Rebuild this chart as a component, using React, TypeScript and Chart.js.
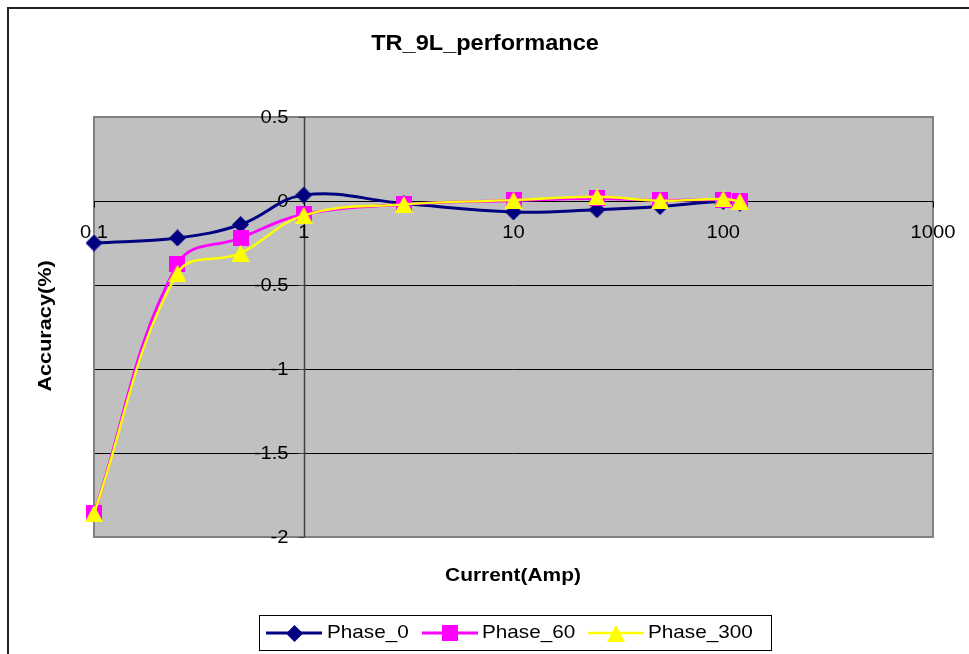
import React, { useEffect, useRef } from "react";
import { Chart, registerables } from "chart.js";

Chart.register(...registerables);

const chartTitle = "TR_9L_performance";
const xAxisTitle = "Current(Amp)";
const yAxisTitle = "Accuracy(%)";
const currents = [0.1, 0.25, 0.5, 1, 3, 10, 25, 50, 100, 120];
const phase0 = [-0.25, -0.22, -0.14, 0.035, -0.015, -0.065, -0.052, -0.033, -0.002, -0.012];
const phase60 = [-1.86, -0.375, -0.22, -0.08, -0.02, 0.003, 0.015, 0.004, 0.008, -0.002];
const phase300 = [-1.86, -0.43, -0.31, -0.085, -0.02, 0.005, 0.025, 0.002, 0.012, -0.002];
const xTicks = [0.1, 1, 10, 100, 1000];
const xTickLabels = ["0.1", "1", "10", "100", "1000"];
const yTicks = [0.5, 0, -0.5, -1, -1.5, -2];
const yTickLabels = ["0.5", "0", "-0.5", "-1", "-1.5", "-2"];
const seriesNames = ["Phase_0", "Phase_60", "Phase_300"];
const seriesValues = [phase0, phase60, phase300];
const seriesColors = ["#000080", "#FF00FF", "#FFFF00"];
const seriesMarkers = ["diamond", "square", "triangle"];
const seriesWidths = [3, 2.8, 2.4];

const FONT = '"Liberation Sans", Arial, sans-serif';

function makeMarker(kind: string, color: string): HTMLCanvasElement {
  const c = document.createElement("canvas");
  let w = 17, h = 17;
  if (kind === "square") { w = 16; h = 16; }
  if (kind === "triangle") { w = 18; h = 17; }
  c.width = w;
  c.height = h;
  const ctx = c.getContext("2d")!;
  ctx.fillStyle = color;
  ctx.beginPath();
  if (kind === "diamond") {
    ctx.moveTo(w / 2, 0);
    ctx.lineTo(w, h / 2);
    ctx.lineTo(w / 2, h);
    ctx.lineTo(0, h / 2);
    ctx.closePath();
  } else if (kind === "square") {
    ctx.rect(0, 0, w, h);
  } else {
    ctx.moveTo(w / 2, 0);
    ctx.lineTo(w, h);
    ctx.lineTo(0, h);
    ctx.closePath();
  }
  ctx.fill();
  return c;
}

function drawText(ctx: CanvasRenderingContext2D, s: string, x: number, y: number, font: string, align: CanvasTextAlign, sx: number, rot = 0) {
  ctx.save();
  ctx.translate(x, y);
  if (rot) ctx.rotate(rot);
  ctx.scale(sx, 1);
  ctx.font = font;
  ctx.fillStyle = "#000";
  ctx.textAlign = align;
  ctx.textBaseline = "middle";
  ctx.fillText(s, 0, 0);
  ctx.restore();
}

function makePlugin(markers: HTMLCanvasElement[]) {
  return {
    id: "excelLook",
    beforeDraw(chart: any) {
      const ctx: CanvasRenderingContext2D = chart.ctx;
      const { left, right, top, bottom } = chart.chartArea;
      const xs = chart.scales.x;
      const ys = chart.scales.y;
      ctx.save();
      ctx.fillStyle = "#ffffff";
      ctx.fillRect(0, 0, chart.width, chart.height);
      // outer frame
      ctx.strokeStyle = "#222";
      ctx.lineWidth = 2;
      ctx.strokeRect(8, 8, 1200, 1200);
      // plot area
      ctx.fillStyle = "#C0C0C0";
      ctx.fillRect(left, top, right - left, bottom - top);
      // gridlines
      ctx.strokeStyle = "#000";
      ctx.lineWidth = 1;
      yTicks.forEach((v) => {
        const py = Math.round(ys.getPixelForValue(v)) + 0.5;
        ctx.beginPath();
        ctx.moveTo(left, py);
        ctx.lineTo(right, py);
        ctx.stroke();
      });
      // plot border
      ctx.strokeStyle = "#808080";
      ctx.lineWidth = 2;
      ctx.strokeRect(left, top, right - left, bottom - top);
      // y axis at x = 1
      const ax = Math.round(xs.getPixelForValue(1)) + 0.5;
      ctx.strokeStyle = "#404040";
      ctx.lineWidth = 1.5;
      ctx.beginPath();
      ctx.moveTo(ax, top);
      ctx.lineTo(ax, bottom);
      ctx.stroke();
      ctx.lineWidth = 1;
      yTicks.forEach((v) => {
        const py = Math.round(ys.getPixelForValue(v)) + 0.5;
        ctx.beginPath();
        ctx.moveTo(ax - 6, py);
        ctx.lineTo(ax, py);
        ctx.stroke();
      });
      // x axis at y = 0
      const ay = Math.round(ys.getPixelForValue(0)) + 0.5;
      ctx.strokeStyle = "#000";
      ctx.lineWidth = 1;
      ctx.beginPath();
      ctx.moveTo(left, ay);
      ctx.lineTo(right, ay);
      ctx.stroke();
      xTicks.forEach((v) => {
        const px = Math.round(xs.getPixelForValue(v)) + 0.5;
        ctx.beginPath();
        ctx.moveTo(px, ay);
        ctx.lineTo(px, ay + 6);
        ctx.stroke();
      });
      // tick labels
      const tf = `19px ${FONT}`;
      yTicks.forEach((v, i) => {
        drawText(ctx, yTickLabels[i], ax - 16, ys.getPixelForValue(v) + 1, tf, "right", 1.06);
      });
      xTicks.forEach((v, i) => {
        drawText(ctx, xTickLabels[i], xs.getPixelForValue(v), ay + 31, tf, "center", 1.06);
      });
      // titles
      drawText(ctx, chartTitle, 485, 44, `bold 22px ${FONT}`, "center", 1.07);
      drawText(ctx, xAxisTitle, 513, 576, `bold 19px ${FONT}`, "center", 1.1);
      drawText(ctx, yAxisTitle, 46, 326, `bold 19px ${FONT}`, "center", 1.14, -Math.PI / 2);
      // legend
      ctx.strokeStyle = "#000";
      ctx.lineWidth = 1;
      ctx.strokeRect(259.5, 615.5, 512, 35);
      const legendLineStart = [266, 422, 588];
      const legendTextStart = [327, 482, 648];
      const ly = 633;
      seriesNames.forEach((name, i) => {
        ctx.strokeStyle = seriesColors[i];
        ctx.lineWidth = seriesWidths[i];
        ctx.beginPath();
        ctx.moveTo(legendLineStart[i], ly);
        ctx.lineTo(legendLineStart[i] + 56, ly);
        ctx.stroke();
        const m = markers[i];
        ctx.drawImage(m, Math.round(legendLineStart[i] + 28 - m.width / 2), Math.round(ly - m.height / 2));
        drawText(ctx, name, legendTextStart[i], ly, `19px ${FONT}`, "left", 1.09);
      });
      ctx.restore();
    },
  };
}

export default function App() {
  const ref = useRef<HTMLCanvasElement | null>(null);
  useEffect(() => {
    if (!ref.current) return;
    const markers = seriesMarkers.map((k, i) => makeMarker(k, seriesColors[i]));
    const datasets = seriesNames.map((name, i) => ({
      label: name,
      data: currents.map((c, j) => ({ x: c, y: seriesValues[i][j] })),
      borderColor: seriesColors[i],
      backgroundColor: seriesColors[i],
      borderWidth: seriesWidths[i],
      pointStyle: markers[i] as any,
      pointRadius: 9,
      tension: 0.4,
      clip: false as any,
      order: 2 - i,
    }));
    const chart = new Chart(ref.current, {
      type: "line",
      data: { datasets },
      options: {
        animation: false,
        responsive: false,
        devicePixelRatio: 1,
        layout: { padding: { left: 94, top: 117, right: 36, bottom: 117 } },
        plugins: { legend: { display: false }, title: { display: false }, tooltip: { enabled: false } },
        scales: {
          x: { type: "logarithmic", min: 0.1, max: 1000, display: false },
          y: { type: "linear", min: -2, max: 0.5, display: false },
        },
      },
      plugins: [makePlugin(markers)],
    });
    return () => chart.destroy();
  }, []);
  return (
    <div style={{ position: "absolute", left: 0, top: 0, width: 969, height: 654 }}>
      <canvas ref={ref} width={969} height={654} style={{ width: 969, height: 654, display: "block" }} />
    </div>
  );
}
